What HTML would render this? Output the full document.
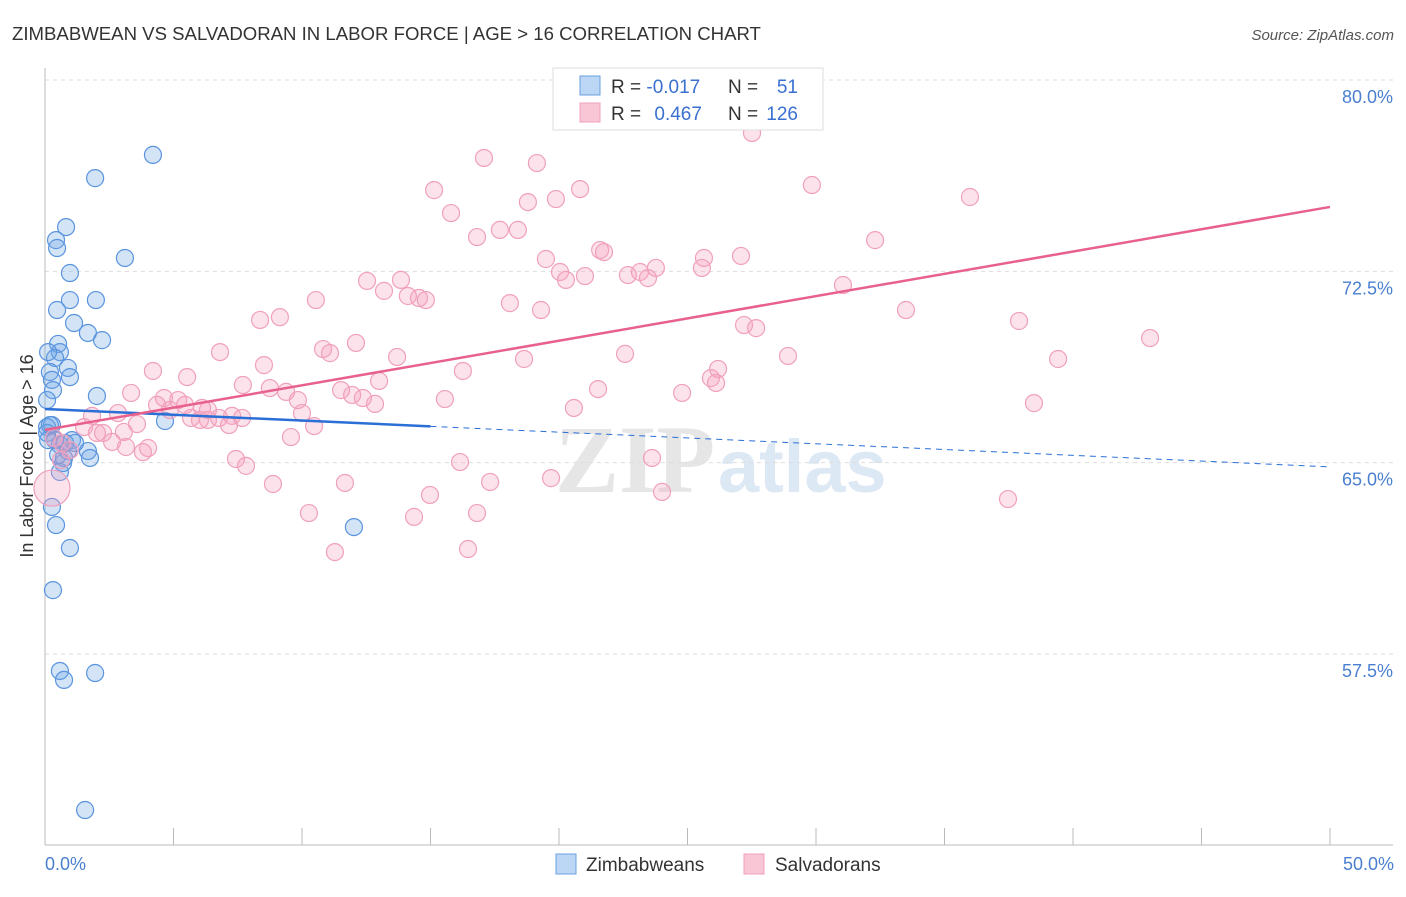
<!DOCTYPE html>
<html><head><meta charset="utf-8"><style>
body{margin:0;background:#fff;font-family:"Liberation Sans",sans-serif}
</style></head><body>
<svg id="c" width="1406" height="892" xmlns="http://www.w3.org/2000/svg" font-family="Liberation Sans, sans-serif">
<text x="12" y="40" font-size="18.6" fill="#333">ZIMBABWEAN VS SALVADORAN IN LABOR FORCE | AGE &gt; 16 CORRELATION CHART</text>
<text x="1394" y="40" font-size="15" fill="#555" text-anchor="end" font-style="italic">Source: ZipAtlas.com</text>
<text x="555" y="492" font-size="96" fill="#e6e6e6" font-family="Liberation Serif, serif" font-weight="bold">ZIP</text>
<text x="718" y="492" font-size="74" fill="#dde8f5" font-weight="bold">atlas</text>
<g id="grid"></g><g id="pts"></g><g id="lines"></g>
<text transform="translate(33,456) rotate(-90)" font-size="18" fill="#333" text-anchor="middle">In Labor Force | Age &gt; 16</text>
<text x="45" y="870" font-size="18" fill="#4a7fd0">0.0%</text>
<text x="1394" y="870" font-size="18" fill="#4a7fd0" text-anchor="end">50.0%</text>
<g>
<rect x="553" y="68" width="270" height="62" fill="#fff" stroke="#ddd"/>
<rect x="580" y="76" width="20" height="19" fill="#bcd6f5" stroke="#6aa0e0"/>
<rect x="580" y="103" width="20" height="19" fill="#f9c6d6" stroke="#f0a0bc"/>
<text x="611" y="93" font-size="19" fill="#333">R = <tspan fill="#3a70d0">-0.017</tspan></text>
<text x="728" y="93" font-size="19" fill="#333">N = </text><text x="798" y="93" font-size="19" fill="#3a70d0" text-anchor="end">51</text>
<text x="611" y="120" font-size="19" fill="#333">R = <tspan fill="#3a70d0" dx="8">0.467</tspan></text>
<text x="728" y="120" font-size="19" fill="#333">N = </text><text x="798" y="120" font-size="19" fill="#3a70d0" text-anchor="end">126</text>
</g>
<g>
<rect x="556" y="854" width="20" height="20" fill="#bcd6f5" stroke="#6aa0e0"/>
<text x="586" y="871" font-size="19" fill="#333">Zimbabweans</text>
<rect x="744" y="854" width="20" height="20" fill="#f9c6d6" stroke="#f0a0bc"/>
<text x="775" y="871" font-size="19" fill="#333">Salvadorans</text>
</g>
</svg>
<script>
const yTicks=[80,72.5,65,57.5];
const yTickLabels=["80.0%","72.5%","65.0%","57.5%"];
const xTicks=[0,5,10,15,20,25,30,35,40,45,50];
const blueX=[4.20,1.95,0.82,0.43,0.47,3.11,0.97,0.97,1.98,0.47,1.13,1.67,2.22,0.51,0.58,0.39,0.12,0.89,0.19,0.97,0.27,0.31,2.02,0.08,0.27,0.08,4.67,1.05,0.58,0.89,1.67,1.75,0.70,0.58,0.27,0.43,12.02,0.97,0.31,0.58,1.95,0.74,1.56,0.08,0.39,0.78,1.17,0.12,0.19,0.51,0.74];
const blueY=[77.73,76.82,74.90,74.39,74.08,73.69,73.10,72.04,72.04,71.65,71.14,70.75,70.47,70.32,70.00,69.77,70.00,69.38,69.22,69.02,68.91,68.51,68.28,68.12,67.14,67.06,67.30,66.55,66.36,66.12,66.12,65.85,65.65,65.30,63.93,63.22,63.14,62.32,60.67,57.50,57.42,57.15,52.05,66.83,66.55,66.44,66.44,66.55,67.14,65.97,65.85];
const pinkX=[27.51,17.08,19.14,29.84,20.82,15.14,19.88,35.99,18.79,15.80,32.30,16.81,18.40,17.70,21.60,21.75,19.49,27.08,25.64,25.56,23.77,22.68,23.15,21.01,23.46,20.04,20.27,12.53,13.85,13.19,14.12,14.55,14.82,10.54,18.09,31.05,9.14,8.37,19.30,33.50,37.90,27.20,27.67,43.00,12.10,10.82,11.09,6.81,13.70,18.64,22.57,39.42,28.91,8.52,4.20,5.53,16.26,26.19,25.91,26.11,13.00,7.70,8.75,11.52,21.52,24.79,3.35,9.38,11.95,12.37,9.84,15.56,12.84,4.63,5.18,5.45,4.36,6.11,38.48,20.58,2.84,4.86,6.34,5.68,6.77,7.28,6.34,7.67,7.16,6.03,10.47,10.00,3.58,1.83,1.52,3.07,2.26,2.02,2.61,3.15,4.01,3.81,0.35,0.66,0.97,0.62,9.57,7.43,7.82,16.15,23.62,8.87,11.67,17.32,19.69,14.98,24.01,37.47,10.27,14.36,16.81,11.28,16.46,0.27];
const pinkY=[78.59,77.61,77.41,76.55,76.39,76.35,76.00,76.08,75.88,75.45,74.39,74.51,74.79,74.79,74.00,73.92,73.65,73.77,73.69,73.30,73.30,73.02,73.14,72.98,72.90,73.14,72.83,72.79,72.83,72.40,72.20,72.12,72.04,72.04,71.92,72.63,71.37,71.26,71.65,71.65,71.22,71.06,70.94,70.55,70.36,70.12,69.96,70.00,69.81,69.73,69.93,69.73,69.85,69.49,69.26,69.02,69.26,69.34,68.98,68.79,68.87,68.71,68.59,68.51,68.55,68.40,68.40,68.44,68.32,68.20,68.12,68.16,67.97,68.20,68.12,67.93,67.93,67.81,68.00,67.81,67.61,67.73,67.73,67.42,67.42,67.50,67.34,67.42,67.14,67.34,67.10,67.61,67.18,67.50,67.06,66.87,66.83,66.83,66.48,66.28,66.24,66.08,66.63,66.44,66.16,65.77,66.67,65.81,65.54,65.69,65.85,64.83,64.87,64.91,65.06,64.40,64.52,64.24,63.69,63.54,63.69,62.16,62.28,64.67];
const blueTrend=[67.77,65.50]; // y at x=0 and x=50
const pinkTrend=[66.95,75.69];
const X=v=>45+v/50*1285, Y=v=>97+(80-v)*25.51;
const NS="http://www.w3.org/2000/svg";
function mk(t,a,p){const e=document.createElementNS(NS,t);for(const k in a)e.setAttribute(k,a[k]);p.appendChild(e);return e;}
const grid=document.getElementById('grid'),pts=document.getElementById('pts'),lines=document.getElementById('lines');
yTicks.forEach((t,i)=>{const y=Y(t)-17;
 const l=mk('line',{x1:45,x2:1393,y1:y,y2:y,stroke:'#ddd','stroke-dasharray':'4,4'},grid);
 
 
 const tx=mk('text',{x:1393,y:Y(t)+6,'font-size':18,fill:'#4a7fd0','text-anchor':'end'},grid);tx.textContent=yTickLabels[i];
 
 });
const ax=mk('line',{x1:45,x2:45,y1:68,y2:845,stroke:'#bbb'},grid);


const bx=mk('line',{x1:45,x2:1393,y1:845,y2:845,stroke:'#bbb'},grid);


xTicks.forEach(t=>{const tk=mk('line',{x1:X(t),x2:X(t),y1:828,y2:845,stroke:'#bbb'},grid);
 
 });
blueX.forEach((v,i)=>{const c=mk('circle',{cx:X(v),cy:Y(blueY[i]),r:8.5,fill:'rgba(110,165,230,0.3)',stroke:'#5a94de','stroke-width':1.2},pts);
 
 });
pinkX.forEach((v,i)=>{const c=mk('circle',{cx:X(v),cy:Y(pinkY[i]),r:i==pinkX.length-1?18:8.5,fill:'rgba(245,160,190,0.3)',stroke:'#f0a0bc','stroke-width':1.2},pts);
 
 });
const by=x=>blueTrend[0]+(blueTrend[1]-blueTrend[0])*x/50;
const l1=mk('line',{x1:X(0),y1:Y(by(0)),x2:X(15),y2:Y(by(15)),stroke:'#2a6fd6','stroke-width':2.5},lines);


const l2=mk('line',{x1:X(15),y1:Y(by(15)),x2:X(50),y2:Y(by(50)),stroke:'#2a6fd6','stroke-width':1,'stroke-dasharray':'6,5'},lines);


const l3=mk('line',{x1:X(0),y1:Y(pinkTrend[0]),x2:X(50),y2:Y(pinkTrend[1]),stroke:'#e8608e','stroke-width':2.5},lines);


</script>
</body></html>
